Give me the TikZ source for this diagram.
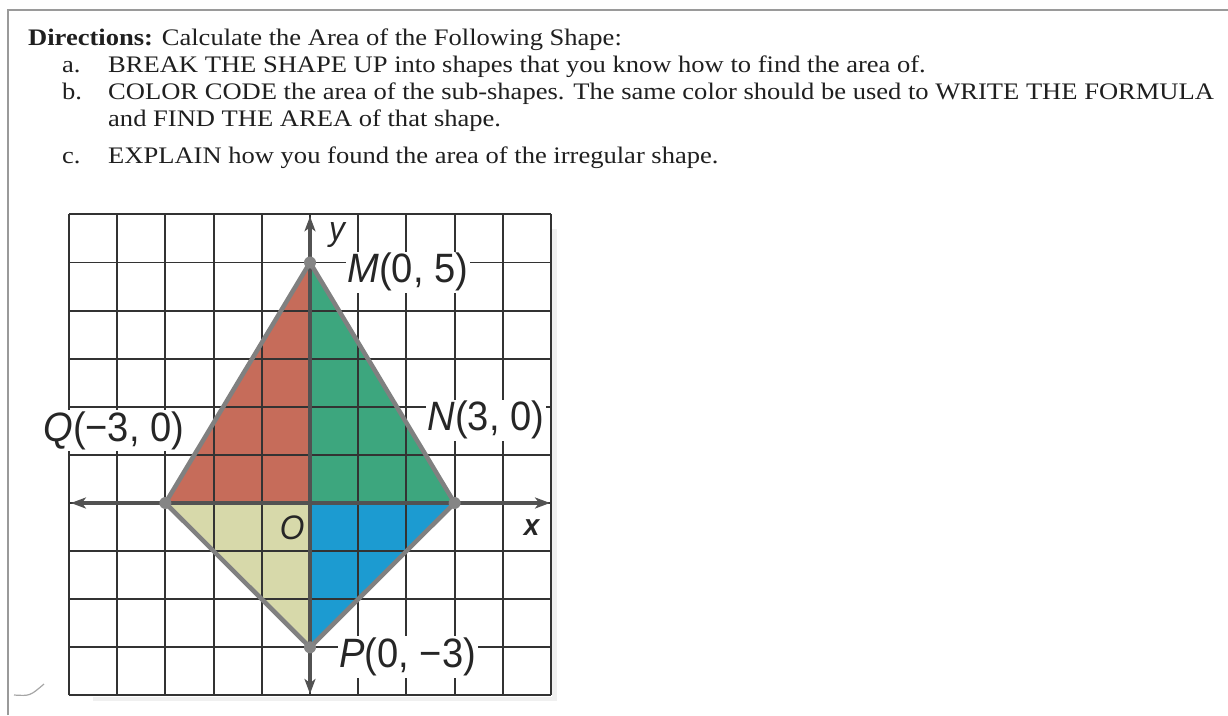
\documentclass[tikz,border=0pt]{standalone}
\usepackage{fontspec}
\setmainfont[FakeStretch=1.12]{Liberation Serif}
\newfontfamily\graphfont[FakeStretch=0.93]{Liberation Sans}
\usetikzlibrary{arrows.meta, positioning, calc}

\definecolor{framegray}{HTML}{9A9A9A}
\definecolor{redpart}{HTML}{C66C5A}
\definecolor{greenpart}{HTML}{3DA67E}
\definecolor{bluepart}{HTML}{1C9BD1}
\definecolor{yellowpart}{HTML}{D7D9AA}

\begin{document}
\begin{tikzpicture}[
        x=1pt, y=-1pt,
        directions/.style = {anchor=base west, inner sep=0pt, text=black!88, font=\fontsize{23.7}{26}\selectfont},
        gridline/.style = {draw=black!80, line width=1.9pt},
        axisline/.style = {
            draw=black!68, 
            line width=3.4pt, 
            {Stealth[length=15pt, width=11pt, inset=4pt]}-{Stealth[length=15pt, width=11pt, inset=4pt]}
        },
        edgeline/.style = {draw=black!50, line width=4.5pt, line cap=round},
        vertexdot/.style = {circle, fill=black!48, inner sep=0pt, minimum size=12pt},
        ptlabel/.style = {
            fill=white, 
            inner sep=1.5pt, 
            text=black!85,
            font=\graphfont\fontsize{41}{41}\selectfont
        },
        axislabel/.style = {inner sep=0pt, text=black!85, font=\graphfont\itshape\fontsize{34}{34}\selectfont}
    ]

    \useasboundingbox (0,0) rectangle (1228,715);

    % page frame
    \draw[framegray, line width=2pt] (8,715) -- (8,10) -- (1228,10);
    \draw[black!35, line width=1.2pt] (14,695) .. controls (30,696) .. (44,684);

    % directions
    \node[directions] (dir) at (28,45) {\textbf{Directions:} Calculate the Area of the Following Shape:};
    \node[directions] (la) at (62,72) {a.};
    \node[directions] (ta) at (108,72) {BREAK THE SHAPE UP into shapes that you know how to find the area of.};
    \node[directions] (lb) at (62,99) {b.};
    \node[directions] (tb) at (108,99) {COLOR CODE the area of the sub-shapes. The same color should be used to WRITE THE FORMULA};
    \node[directions] (tb2) at (108,126) {and FIND THE AREA of that shape.};
    \node[directions] (lc) at (62,163) {c.};
    \node[directions] (tc) at (108,163) {EXPLAIN how you found the area of the irregular shape.};

    \begin{scope}[shift={(310pt,-503pt)}, x=48.2pt, y=48.1pt]
        \coordinate (O) at (0,0);
        \coordinate (M) at (0,5);
        \coordinate (N) at (3,0);
        \coordinate (P) at (0,-3);
        \coordinate (Q) at (-3,0);
        \coordinate (xl) at (-4.96,0);
        \coordinate (xr) at (4.98,0);
        \coordinate (yb) at (0,-3.97);
        \coordinate (yt) at (0,5.96);

        % coloured sub-shapes
        \fill[redpart] (Q) -- (M) -- (O) -- cycle;
        \fill[greenpart] (M) -- (N) -- (O) -- cycle;
        \fill[bluepart] (O) -- (N) -- (P) -- cycle;
        \fill[yellowpart] (Q) -- (O) -- (P) -- cycle;

        % grid with its scan shadow
        \fill[black!6] (5.03,-4.05) rectangle (5.13,5.7);
        \fill[black!6] (-4.5,-4.03) rectangle (5.13,-4.12);
        \foreach \i in {-5,...,5}
            \draw[gridline] (\i,-4) -- (\i,6);
        \foreach \j in {-4,...,6}
            \draw[gridline] (-5,\j) -- (5,\j);

        % axes
        \draw[axisline] (xl) -- (xr);
        \draw[axisline] (yb) -- (yt);

        % edges of the shape
        \draw[edgeline] (Q) -- (M);
        \draw[edgeline] (M) -- (N);
        \draw[edgeline] (N) -- (P);
        \draw[edgeline] (P) -- (Q);

        \node[vertexdot] (Mdot) at (M) {};
        \node[vertexdot] (Ndot) at (N) {};
        \node[vertexdot] (Pdot) at (P) {};
        \node[vertexdot] (Qdot) at (Q) {};

        % labels
        \node[ptlabel] (Mlabel) at (2.03,4.8) {\textit{M}(0, 5)};
        \node[ptlabel] (Nlabel) at (3.65,1.72) {\textit{N}(3, 0)};
        \node[ptlabel] (Qlabel) at (-4.07,1.5) {\textit{Q}(−3, 0)};
        \node[ptlabel] (Plabel) at (2.03,-3.2) {\textit{P}(0, −3)};
        \node[axislabel] (ylabel) at (0.56,5.57) {y};
        \node[axislabel] (Olabel) at (-0.37,-0.52) {O};
        \node[axislabel, font=\graphfont\bfseries\itshape\fontsize{30}{30}\selectfont] (xlabel) at (4.6,-0.52) {x};
    \end{scope}

\end{tikzpicture}
\end{document}
